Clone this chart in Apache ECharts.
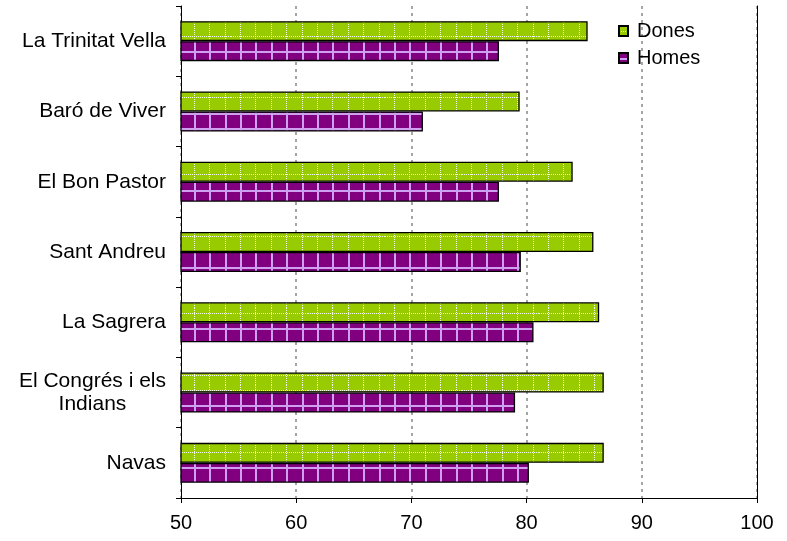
<!DOCTYPE html>
<html><head><meta charset="utf-8">
<script src="https://cdn.jsdelivr.net/npm/echarts@6/dist/echarts.min.js"></script>
<style>html,body{margin:0;padding:0;background:#fff}#c{width:787px;height:541px}</style>
</head><body><div id="c"></div>
<script>
const categories = ['La Trinitat Vella','Baró de Viver','El Bon Pastor','Sant Andreu','La Sagrera','El Congrés i els\nIndians','Navas'];
const dones = [85.3, 79.4, 84.0, 85.8, 86.3, 86.7, 86.7];
const homes = [77.6, 71.0, 77.6, 79.5, 80.6, 79.0, 80.2];
const xTicks = [50, 60, 70, 80, 90, 100];

function makeTile(bg, line, dotted, w) {
  const size = 77, n = 5, p = size / n;
  const cv = document.createElement('canvas');
  cv.width = size; cv.height = size;
  const g = cv.getContext('2d');
  g.fillStyle = bg; g.fillRect(0, 0, size, size);
  g.fillStyle = line;
  for (let i = 0; i < n; i++) {
    const ox = Math.round(i * p + 9) % size;
    const oy = Math.round(i * p + 5) % size;
    if (dotted) {
      for (let k = 0; k < size; k += 2) {
        g.fillRect(ox, k, 1, 1);
        g.fillRect(k, oy, 1, 1);
      }
    } else {
      g.fillRect(ox, 0, w, size);
      g.fillRect(0, oy, size, w);
    }
  }
  return { image: cv, repeat: 'repeat' };
}
const greenPat = makeTile('#99CC00', '#F4FAE6', true, 1);
const purplePat = makeTile('#800080', '#CFA0F0', false, 2);

const chart = echarts.init(document.getElementById('c'));
const font = 'Liberation Sans, Arial, sans-serif';
chart.setOption({
  animation: false,
  backgroundColor: '#fff',
  textStyle: { fontFamily: font },
  grid: { left: 181, right: 30, top: 6, bottom: 43, containLabel: false },
  legend: {
    orient: 'vertical', left: 618, top: 21, itemGap: 7, padding: 0,
    itemWidth: 9, itemHeight: 10, icon: 'rect',
    textStyle: { fontSize: 20, color: '#000', fontFamily: font, padding: [0, 0, 0, 4] },
    data: ['Dones', 'Homes']
  },
  xAxis: {
    type: 'value', min: 50, max: 100, interval: 10,
    axisLine: { show: true, lineStyle: { color: '#000', width: 1 } },
    axisTick: { show: true, length: 5, lineStyle: { color: '#000' } },
    axisLabel: { fontSize: 20, color: '#000', margin: 15, fontFamily: font,
      formatter: v => xTicks.includes(v) ? String(v) : '' },
    splitLine: { show: true, lineStyle: { color: '#888', type: [3, 4], width: 1.5 } }
  },
  yAxis: [{
    type: 'category', data: categories, inverse: true,
    axisLine: { show: true, lineStyle: { color: '#000', width: 1 } },
    axisTick: { show: true, length: 5, lineStyle: { color: '#000' } },
    axisLabel: {
      fontSize: 21, color: '#000', margin: 15, fontFamily: font, lineHeight: 23,
      formatter: v => v.split('\n').map(s => '{c|' + s + '}').join('\n'),
      rich: { c: { align: 'center', fontSize: 21, lineHeight: 23, fontFamily: font, color: '#000' } }
    }
  }, {
    type: 'category', data: categories, inverse: true, position: 'right',
    axisLine: { show: true, lineStyle: { color: '#000', width: 1 } },
    axisTick: { show: false }, axisLabel: { show: false }
  }],
  series: [{
    name: 'Dones', type: 'bar', data: dones, barWidth: 20, barGap: '0%',
    itemStyle: { color: greenPat, borderColor: '#000', borderWidth: 1.3 }
  }, {
    name: 'Homes', type: 'bar', data: homes, barWidth: 20, barGap: '0%',
    itemStyle: { color: purplePat, borderColor: '#000', borderWidth: 1.3 }
  }]
});
</script></body></html>
